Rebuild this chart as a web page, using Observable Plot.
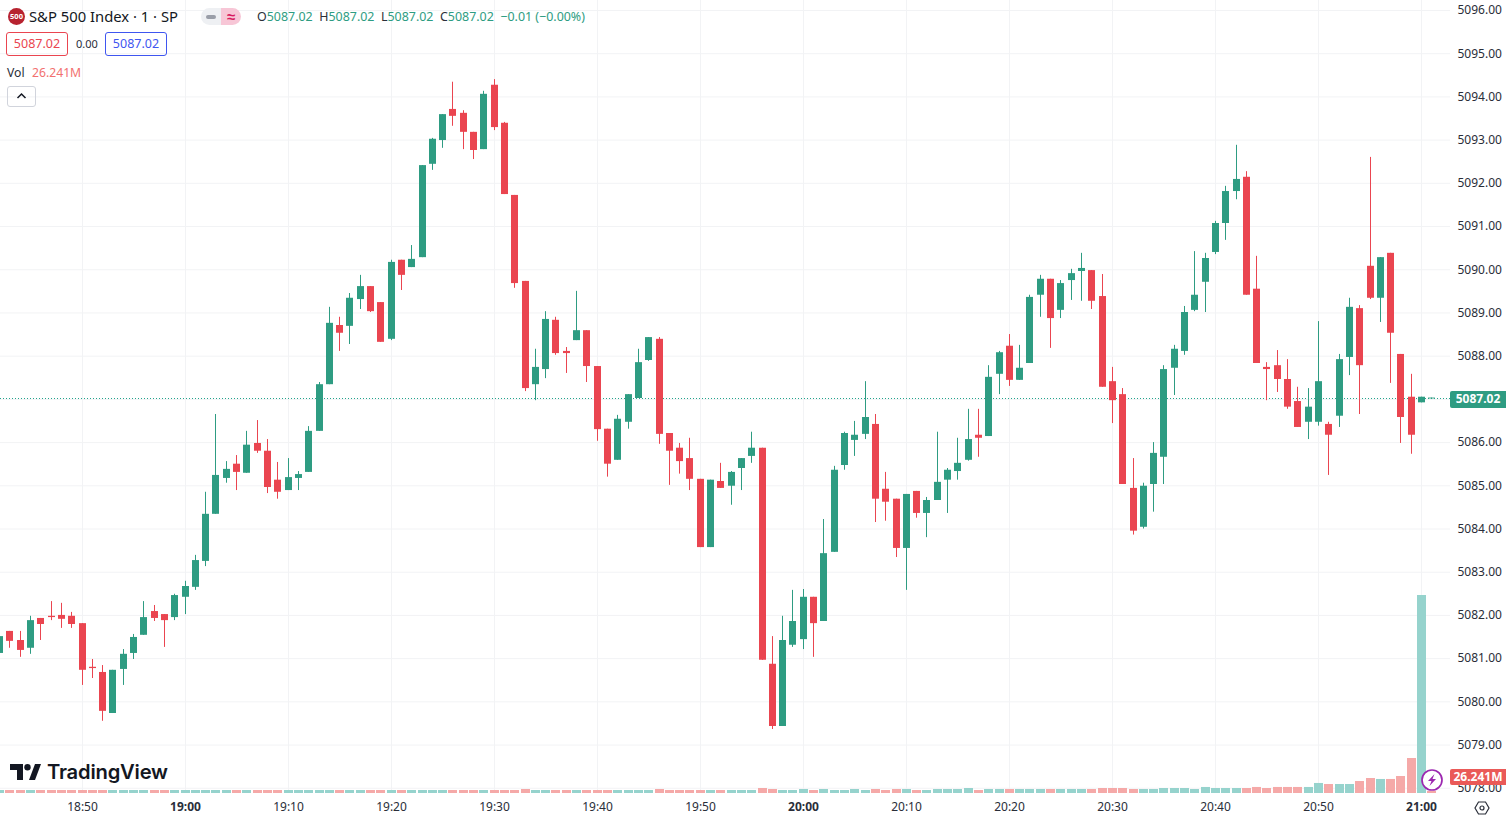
<!DOCTYPE html>
<html>
<head>
<meta charset="utf-8">
<script src="https://cdn.jsdelivr.net/npm/d3@7"></script>
<script src="https://cdn.jsdelivr.net/npm/@observablehq/plot@0.6"></script>
<style>
html,body{margin:0;padding:0;background:#fff;width:1506px;height:817px;overflow:hidden}
#root{position:relative;width:1506px;height:817px;font-family:"Noto Sans",sans-serif;color:#131722}
#root svg.layer{position:absolute;left:0;top:0;background:transparent}
.o{position:absolute;white-space:nowrap;line-height:1}
.g{color:#2e9c82}.k{color:#2a2e39}
.box{box-sizing:border-box;border-radius:3px;border:1px solid;display:flex;align-items:center;justify-content:center;font-size:12.5px;height:24px;top:32px;padding-top:1px}
.tag{left:1450px;width:56px;height:17px;color:#fff;font-size:12px;font-weight:700;display:flex;align-items:center;justify-content:center;border-radius:2px 0 0 2px}
</style>
</head>
<body>
<div id="root"></div>
<script>
const firstBar = Date.UTC(2024, 1, 23, 18, 42);
const minute = 60000;
const directions = [
 "GRRGRRRRRR","RGGGGRRGGG","GGGRGRRRGG","GGGRGGRRGR","GGGGRRRGRR","RRGGRRGRRR","GGGGRRRRRG",
 "RGGGRRGGGR","GGGGGRRRGR","GGGGGRGGRG","GGRGGGRRRR","RGGGGGGGGG","GRRRRRRGGR","GGRRGRRRGG"
].join("");
const bodyTop = [
5081.51,5081.63,5081.42,5081.88,5081.93,5081.98,5082.00,5081.98,5081.81,5080.80,
5080.68,5080.73,5081.10,5081.49,5081.95,5082.09,5082.02,5082.46,5082.67,5083.27,
5084.34,5085.24,5085.38,5085.50,5085.94,5085.98,5085.80,5085.13,5085.19,5085.26,
5086.26,5087.34,5088.76,5088.71,5089.34,5089.61,5089.61,5089.24,5090.17,5090.22,
5090.24,5092.41,5093.02,5093.59,5093.71,5093.62,5093.18,5094.06,5094.27,5093.39,
5091.72,5089.73,5087.74,5088.85,5088.83,5088.11,5088.59,5088.59,5087.76,5086.31,
5086.54,5087.11,5087.85,5088.43,5088.39,5086.21,5085.87,5085.63,5085.15,5085.13,
5085.10,5085.31,5085.63,5085.87,5085.87,5080.87,5081.42,5081.86,5082.42,5082.42,
5083.43,5085.36,5086.21,5086.17,5086.58,5086.42,5084.92,5084.69,5084.80,5084.87,
5084.66,5085.08,5085.36,5085.52,5086.07,5086.17,5087.51,5088.08,5088.23,5087.72,
5089.36,5089.78,5089.78,5089.68,5089.91,5090.03,5089.98,5089.38,5087.41,5087.11,
5084.94,5084.99,5085.75,5087.69,5088.16,5089.01,5089.41,5090.26,5091.07,5091.81,
5092.09,5092.14,5089.55,5087.74,5087.78,5087.46,5086.95,5086.82,5087.41,5086.42,
5087.92,5089.13,5089.10,5090.08,5090.28,5090.38,5088.04,5087.05,5087.05,5087.03];
const bodyBottom = [
5081.12,5081.40,5081.19,5081.24,5081.79,5081.95,5081.91,5081.79,5080.73,5080.77,
5079.78,5079.73,5080.75,5081.12,5081.54,5081.93,5081.88,5081.95,5082.42,5082.65,
5083.25,5084.34,5085.17,5085.31,5085.29,5085.80,5084.96,5084.85,5084.89,5085.17,
5085.31,5086.26,5087.34,5088.53,5088.69,5089.31,5089.03,5088.32,5088.39,5089.87,
5090.05,5090.28,5092.44,5092.99,5093.55,5093.18,5092.76,5092.78,5093.29,5091.74,
5089.68,5087.25,5087.34,5087.69,5088.06,5088.06,5088.36,5087.76,5086.30,5085.50,
5085.59,5086.47,5087.02,5087.90,5086.19,5085.80,5085.56,5085.15,5083.57,5083.57,
5084.94,5084.99,5085.40,5085.68,5080.96,5079.43,5079.43,5081.31,5081.44,5081.81,
5081.86,5083.46,5085.47,5086.05,5086.19,5084.69,5084.62,5083.55,5083.55,5084.36,
5084.36,5084.66,5085.13,5085.33,5085.59,5086.10,5086.14,5087.58,5087.44,5087.44,
5087.83,5089.41,5088.87,5089.06,5089.75,5089.96,5089.27,5087.28,5086.97,5085.03,
5083.95,5084.04,5085.03,5085.66,5087.72,5088.11,5089.06,5089.71,5090.40,5091.07,
5091.81,5089.41,5087.83,5087.69,5087.46,5086.82,5086.35,5086.47,5086.47,5086.17,
5086.61,5087.97,5087.78,5089.34,5089.34,5088.53,5086.58,5086.17,5086.92,5087.01];
const wickHigh = [
5081.51,5081.63,5081.63,5081.98,5081.93,5082.32,5082.28,5082.07,5081.81,5080.98,
5080.84,5080.73,5081.21,5081.56,5082.32,5082.23,5082.02,5082.49,5082.79,5083.39,
5084.85,5086.65,5085.56,5085.70,5086.26,5086.51,5086.07,5085.54,5085.63,5085.33,
5086.37,5087.39,5089.13,5088.90,5089.45,5089.87,5089.61,5089.24,5090.22,5090.22,
5090.56,5092.41,5093.04,5093.59,5094.34,5093.68,5093.18,5094.13,5094.40,5093.41,
5091.72,5089.73,5088.16,5089.03,5088.90,5088.20,5089.50,5088.59,5087.76,5086.31,
5086.63,5087.11,5088.16,5088.43,5088.43,5086.21,5085.98,5086.10,5085.15,5085.13,
5085.52,5085.33,5085.63,5086.24,5085.87,5081.51,5081.98,5082.58,5082.60,5082.42,
5084.22,5085.45,5086.24,5086.49,5087.41,5086.65,5085.31,5084.69,5084.80,5084.87,
5084.73,5086.24,5085.40,5086.10,5086.77,5086.77,5087.78,5088.11,5088.50,5088.25,
5089.41,5089.87,5089.78,5089.75,5090.01,5090.38,5089.98,5089.89,5087.74,5087.25,
5085.63,5085.06,5086.00,5087.78,5088.25,5089.15,5090.42,5090.38,5091.12,5091.93,
5092.88,5092.27,5090.31,5087.85,5088.13,5087.92,5087.28,5087.25,5088.80,5086.47,
5088.04,5089.34,5089.17,5092.60,5090.28,5090.38,5088.04,5087.58,5087.05,5087.03];
const wickLow = [
5081.12,5081.24,5081.03,5081.10,5081.42,5081.88,5081.70,5081.70,5080.38,5080.54,
5079.55,5079.73,5080.38,5080.98,5081.54,5081.86,5081.26,5081.88,5082.02,5082.58,
5083.13,5084.34,5085.06,5084.89,5085.29,5085.75,5084.82,5084.69,5084.89,5084.89,
5085.31,5086.26,5087.34,5088.11,5088.27,5089.08,5089.01,5088.32,5088.36,5089.52,
5090.05,5090.28,5092.30,5092.81,5093.32,5092.78,5092.55,5092.78,5093.22,5091.74,
5089.57,5087.18,5086.97,5087.48,5088.02,5087.60,5088.36,5087.39,5086.03,5085.20,
5085.59,5086.31,5087.02,5087.88,5085.96,5085.01,5085.27,5084.89,5083.57,5083.57,
5084.94,5084.55,5084.89,5085.52,5080.96,5079.36,5079.43,5081.26,5081.21,5081.03,
5081.86,5083.46,5085.36,5085.68,5086.07,5084.15,5084.18,5083.34,5082.58,5084.25,
5083.80,5084.66,5084.36,5085.13,5085.57,5085.66,5086.14,5087.11,5087.30,5087.44,
5087.83,5088.90,5088.18,5088.87,5089.29,5089.27,5089.08,5087.28,5086.44,5085.03,
5083.86,5084.00,5084.39,5085.03,5087.09,5088.02,5089.03,5089.01,5090.35,5090.68,
5091.62,5089.41,5087.83,5086.97,5087.16,5086.77,5086.35,5086.07,5086.38,5085.24,
5086.35,5087.55,5086.65,5089.31,5088.78,5087.37,5085.98,5085.73,5086.92,5087.01];
const volumes = [
.40,.40,.40,.40,.40,.40,.40,.40,.40,.40,
.40,.40,.40,.40,.40,.40,.40,.40,.40,.40,
.40,.40,.40,.40,.40,.40,.40,.40,.40,.40,
.40,.40,.40,.40,.40,.40,.40,.40,.40,.40,
.40,.40,.40,.40,.40,.40,.40,.40,.40,.40,
.40,.53,.40,.40,.40,.40,.40,.40,.40,.40,
.40,.40,.40,.40,.53,.40,.40,.40,.40,.40,
.40,.40,.40,.40,.66,.53,.40,.40,.53,.40,
.53,.40,.40,.53,.40,.53,.40,.53,.53,.40,
.40,.53,.53,.53,.66,.40,.53,.53,.53,.53,
.53,.53,.53,.53,.53,.53,.53,.66,.66,.66,
.53,.53,.53,.66,.66,.66,.53,.80,.66,.66,
.66,.66,.80,.66,.80,.80,.80,.80,1.33,1.19,
1.19,1.19,1.59,1.99,1.86,1.86,2.25,4.64,26.241,.27];
const priceTicks = [5078,5079,5080,5081,5082,5083,5084,5085,5086,5087,5088,5089,5090,5091,5092,5093,5094,5095,5096];
const hiddenPriceLabel = 5087;
const timeTickLabels = ["18:50","19:00","19:10","19:20","19:30","19:40","19:50","20:00","20:10","20:20","20:30","20:40","20:50","21:00"];
const boldTimeLabels = ["19:00","20:00","21:00"];
const lastPrice = 5087.02;
const upColor = "#2e9c82", downColor = "#ea4550";
const upVol = "#96d3cd", downVol = "#f5a9a8", gridColor = "#f2f3f5", axisColor = "#2a2e39";
const fontStack = '"Noto Sans",sans-serif';

const bars = bodyTop.map((_, i) => ({
  t: new Date(firstBar + i * minute),
  top: bodyTop[i], bottom: bodyBottom[i], high: wickHigh[i], low: wickLow[i],
  color: directions[i] === "G" ? upColor : downColor,
  volume: volumes[i],
  volColor: (directions[i] === "G" && i < bodyTop.length - 1) ? upVol : downVol
}));
const toDate = s => { const [h, m] = s.split(":").map(Number); return new Date(Date.UTC(2024, 1, 23, h, m)); };
const timeTicks = timeTickLabels.map(toDate);
const boldTicks = boldTimeLabels.map(toDate);
const plainTicks = timeTickLabels.filter(s => !boldTimeLabels.includes(s)).map(toDate);
const xDomain = [new Date(firstBar + 0.09 * minute), new Date(firstBar + 140.81 * minute)];
const fmtTime = d3.utcFormat("%H:%M");
const shared = {
  width: 1506, height: 817, marginLeft: 0, marginRight: 56,
  x: {type: "utc", domain: xDomain, round: true, axis: null},
  color: {type: "identity"},
  style: {fontFamily: fontStack, fontSize: "12px", background: "transparent", color: axisColor, overflow: "visible"},
  className: "layer"
};
const bottomEdge = 793;
const price = Plot.plot({
  ...shared,
  marginTop: 0, marginBottom: 817 - bottomEdge,
  y: {domain: [5077.879, 5096.231], axis: null},
  marks: [
    Plot.ruleY(priceTicks, {stroke: gridColor, strokeWidth: 1}),
    Plot.ruleX(timeTicks, {stroke: gridColor, strokeWidth: 1}),
    Plot.ruleY([lastPrice], {stroke: "#22a58c", strokeWidth: 1, strokeDasharray: "1 2"}),
    Plot.ruleX(bars, {x: "t", y1: "low", y2: "high", stroke: "color", strokeWidth: 1, clip: "frame"}),
    Plot.ruleX(bars, {x: "t", y1: "bottom", y2: "top", stroke: "color", strokeWidth: 7, clip: "frame"}),
    Plot.axisY(priceTicks.filter(d => d !== hiddenPriceLabel), {anchor: "right", tickSize: 0, tickPadding: 7, tickFormat: d3.format(".2f"), label: null, fill: axisColor, fontSize: 12}),
    Plot.axisX(plainTicks, {anchor: "bottom", tickSize: 0, tickPadding: 9, tickFormat: fmtTime, label: null, fill: axisColor, fontSize: 12}),
    Plot.axisX(boldTicks, {anchor: "bottom", tickSize: 0, tickPadding: 9, tickFormat: fmtTime, label: null, fill: axisColor, fontSize: 12, fontWeight: 700})
  ]
});
const volume = Plot.plot({
  ...shared,
  marginTop: 595, marginBottom: 817 - bottomEdge,
  y: {domain: [0, 26.241], axis: null},
  marks: [
    Plot.ruleX(bars, {x: "t", y1: 0, y2: "volume", stroke: "volColor", strokeWidth: 9})
  ]
});
const root = document.getElementById("root");
root.append(price, volume);

const y0 = price.scale("y").apply(lastPrice);
const overlay = `
<div class="o" style="left:8px;top:8px;width:17px;height:17px;border-radius:50%;background:#b7222f;color:#fff;font-size:7.5px;font-weight:700;display:flex;align-items:center;justify-content:center">500</div>
<div class="o" id="title" style="left:29px;top:9px;font-size:14.8px;color:#131722">S&amp;P 500 Index · 1 · SP</div>
<div class="o" style="left:201px;top:8px;width:20px;height:17px;background:#eef0f3;border-radius:9px 0 0 9px"></div>
<div class="o" style="left:206px;top:15px;width:10px;height:3.5px;background:#9a9ea8;border-radius:2px"></div>
<div class="o" style="left:221px;top:8px;width:20px;height:17px;background:#f7c6d6;border-radius:0 9px 9px 0;color:#d81b60;font-size:15px;display:flex;align-items:center;justify-content:center;font-weight:700">≈</div>
<div class="o k" style="left:257px;top:11px;font-size:12.45px">O<span class="g">5087.02</span>&nbsp; H<span class="g">5087.02</span>&nbsp; L<span class="g">5087.02</span>&nbsp; C<span class="g">5087.02</span>&nbsp; <span class="g">−0.01 (−0.00%)</span></div>
<div class="o box" style="left:6px;width:62px;border-color:#ea4550;color:#ea4550">5087.02</div>
<div class="o k" style="left:76px;top:38px;font-size:11px">0.00</div>
<div class="o box" style="left:105px;width:62px;border-color:#3f56f0;color:#3f56f0">5087.02</div>
<div class="o k" style="left:7px;top:67px;font-size:12.2px">Vol</div>
<div class="o" style="left:32px;top:67px;font-size:12.2px;color:#f2706f">26.241M</div>
<div class="o" style="left:7px;top:86px;width:29px;height:21px;box-sizing:border-box;border:1px solid #d1d4dc;border-radius:3px"></div>
<svg class="o" style="left:16px;top:92px" width="11" height="8" viewBox="0 0 11 8"><path d="M1.5 6 5.5 2 9.5 6" fill="none" stroke="#131722" stroke-width="1.5"/></svg>
<svg class="o" style="left:10px;top:764px" width="31" height="16" viewBox="0 0 31 16"><path d="M0 0H13V16H7V6H0Z M19 16 25 0H31L25 16Z" fill="#131722"/><circle cx="17.5" cy="3.2" r="3.2" fill="#131722"/></svg>
<div class="o" style="left:47px;top:762px;font-family:Inter,sans-serif;font-weight:600;font-size:20.2px;color:#131722;letter-spacing:-.2px">TradingView</div>
<div class="o tag" style="top:${y0 - 7.5}px;background:#2e9c82">5087.02</div>
<div class="o tag" style="top:769px;height:16px;background:#ea5a58">26.241M</div>
<svg class="o" style="left:1420px;top:768px" width="24" height="24" viewBox="0 0 24 24"><circle cx="12" cy="12" r="10" fill="#fff" stroke="#9c27b0" stroke-width="1.7"/><path d="M14.5 6 8 13h3.5L9.5 18 16 11h-3.5Z" fill="#9c27b0"/></svg>
<svg class="o" style="left:1474px;top:800px" width="16" height="16" viewBox="0 0 16 16"><path d="M4.5 2h7L15 8l-3.5 6h-7L1 8Z" fill="none" stroke="#2a2e39" stroke-width="1.2"/><circle cx="8" cy="8" r="2" fill="none" stroke="#2a2e39" stroke-width="1.2"/></svg>`;
root.insertAdjacentHTML("beforeend", overlay);
</script>
</body>
</html>
